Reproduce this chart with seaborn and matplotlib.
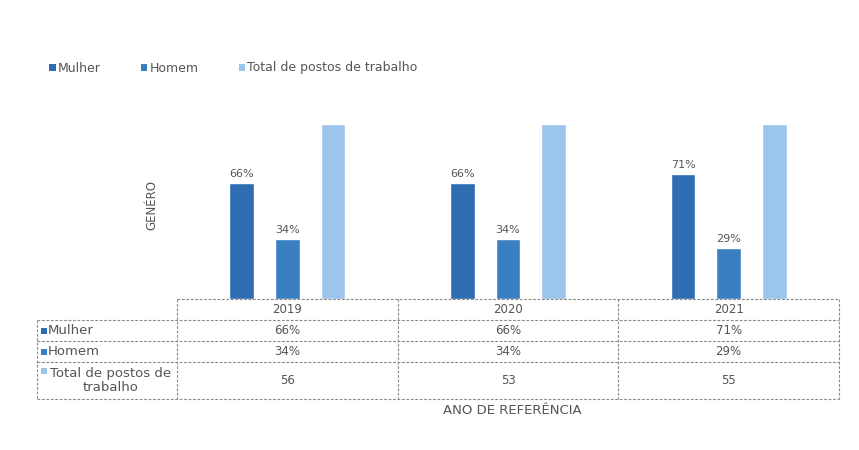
import matplotlib
matplotlib.use("Agg")
import matplotlib.pyplot as plt
from matplotlib.patches import Patch, Rectangle
from matplotlib.transforms import blended_transform_factory
import seaborn as sns
import pandas as pd

# ---- data -------------------------------------------------------------
years = ["2019", "2020", "2021"]
series = ["Mulher", "Homem", "Total de postos de trabalho"]
mulher_pct = [66, 66, 71]
homem_pct = [34, 34, 29]
total_bar_pct = [100, 100, 100]      # total of posts drawn as the full 100 %
total_posts = [56, 53, 55]           # number of posts shown in the table

colors = ["#2f6db3", "#3b7fc3", "#9cc5eb"]
text_color = "#555555"
line_color = "#8a8a8a"

df = pd.DataFrame({
    "ano": years * 3,
    "serie": [series[0]] * 3 + [series[1]] * 3 + [series[2]] * 3,
    "valor": mulher_pct + homem_pct + total_bar_pct,
})

# ---- figure -----------------------------------------------------------
sns.set_theme(style="white")
plt.rcParams["font.family"] = ["DejaVu Sans"]

W, H = 859, 450
fig = plt.figure(figsize=(W / 100, H / 100), dpi=100)
fig.patch.set_facecolor("white")


def fx(px):
    return px / W


def fy(py):
    return 1 - py / H


ax_left, ax_right, ax_bottom, ax_top = 177, 839, 299, 106
ax = fig.add_axes([fx(ax_left), fy(ax_bottom), fx(ax_right - ax_left),
                   (ax_bottom - ax_top) / H])

sns.barplot(data=df, x="ano", y="valor", hue="serie", hue_order=series,
            order=years, palette=colors, width=0.62, gap=0.46,
            legend=False, ax=ax, saturation=1)

ax.set_ylim(0, 110)
ax.set_xlim(-0.5, 2.5)
ax.set_xlabel("")
ax.set_ylabel("")
ax.set_xticks([])
ax.set_yticks([])
for s in ax.spines.values():
    s.set_visible(False)

# percentage labels above the gender bars
for cont, vals in zip(ax.containers[:2], [mulher_pct, homem_pct]):
    ax.bar_label(cont, labels=[f"{v}%" for v in vals], padding=3,
                 fontsize=8, color=text_color)

# ---- legend -----------------------------------------------------------
handles = [Patch(facecolor=c, edgecolor="none", label=l)
           for c, l in zip(colors, series)]
fig.legend(handles=handles, loc="center left",
           bbox_to_anchor=(fx(38), fy(68)), ncol=3, frameon=False,
           fontsize=9, handlelength=0.5, handleheight=0.5,
           handletextpad=0.2, columnspacing=3.2, labelcolor=text_color)

# ---- axis titles ------------------------------------------------------
fig.text(fx(152), fy(205), "GENÉRO", rotation=90, ha="center", va="center",
         fontsize=8.5, color=text_color)
fig.text(fx(512), fy(410), "ANO DE REFERÊNCIA", ha="center", va="center",
         fontsize=9.5, color=text_color)

# ---- data table -------------------------------------------------------
row_y = [299, 320, 341, 362, 399]
tbl_left = 37
dash = dict(color=line_color, lw=0.8, linestyle=(0, (2.5, 1.5)))
trans = blended_transform_factory(ax.transData, fig.transFigure)

# horizontal rules
fig.add_artist(plt.Line2D([fx(ax_left), fx(ax_right)], [fy(row_y[0])] * 2,
                          transform=fig.transFigure, **dash))
for y in row_y[1:]:
    fig.add_artist(plt.Line2D([fx(tbl_left), fx(ax_right)], [fy(y)] * 2,
                              transform=fig.transFigure, **dash))
# vertical rules
fig.add_artist(plt.Line2D([fx(tbl_left)] * 2, [fy(row_y[1]), fy(row_y[-1])],
                          transform=fig.transFigure, **dash))
for xb in [-0.5, 0.5, 1.5, 2.5]:
    fig.add_artist(plt.Line2D([xb, xb], [fy(row_y[0]), fy(row_y[-1])],
                              transform=trans, **dash))

row_mid = [(row_y[i] + row_y[i + 1]) / 2 for i in range(4)]

# column headers and cell values
cell = dict(ha="center", va="center", fontsize=8.5, color=text_color)
for i, yr in enumerate(years):
    fig.text(i, fy(row_mid[0]), yr, transform=trans, **cell)
    fig.text(i, fy(row_mid[1]), f"{mulher_pct[i]}%", transform=trans, **cell)
    fig.text(i, fy(row_mid[2]), f"{homem_pct[i]}%", transform=trans, **cell)
    fig.text(i, fy(row_mid[3]), f"{total_posts[i]}", transform=trans, **cell)


def key_square(x_px, y_px, color, size=6):
    fig.add_artist(Rectangle((fx(x_px), fy(y_px + size / 2)), fx(size),
                             size / H, transform=fig.transFigure,
                             facecolor=color, edgecolor="none"))


# row labels with their series key
key_square(41, row_mid[1], colors[0])
fig.text(fx(48), fy(row_mid[1]), series[0], ha="left", va="center",
         fontsize=9.5, color=text_color)
key_square(41, row_mid[2], colors[1])
fig.text(fx(48), fy(row_mid[2]), series[1], ha="left", va="center",
         fontsize=9.5, color=text_color)
key_square(41, 371, colors[2])
fig.text(fx(111), fy(row_mid[3]), "Total de postos de\ntrabalho",
         ha="center", va="center", fontsize=9.5, color=text_color,
         multialignment="center", linespacing=1.05)

fig.savefig("out.png", dpi=100, facecolor="white")
